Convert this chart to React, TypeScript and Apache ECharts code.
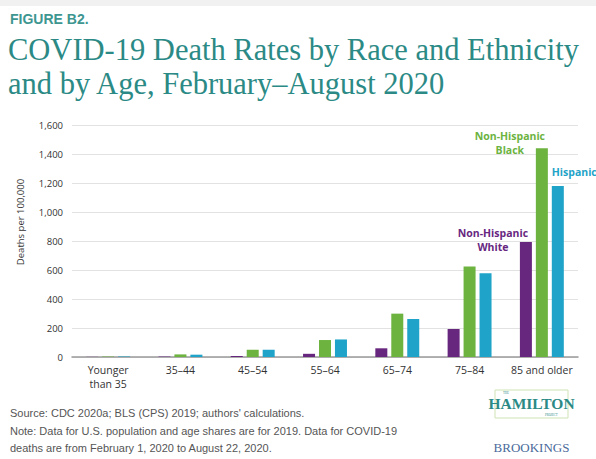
import React, { useEffect, useRef } from "react";
import * as echarts from "echarts";

const categories = ["Younger\nthan 35", "35–44", "45–54", "55–64", "65–74", "75–84", "85 and older"];
const white = [1, 3, 7, 22, 60, 193, 793];
const black = [3, 18, 50, 117, 299, 625, 1439];
const hispanic = [3, 16, 50, 121, 262, 577, 1179];
const yTicks = [0, 200, 400, 600, 800, 1000, 1200, 1400, 1600];

const PURPLE = "#67277f";
const GREEN = "#6cb33f";
const BLUE = "#1fa3c8";
const TEAL = "#2b8a85";

export default function App() {
  const ref = useRef<HTMLDivElement>(null);
  useEffect(() => {
    document.body.style.margin = "0";
    const chart = echarts.init(ref.current!, undefined, { renderer: "svg" });
    const last = categories.length - 1;
    const mk = (vals: number[], label: any) =>
      vals.map((v, i) => (i === last ? { value: v, label } : v));
    const labelFont = { fontFamily: "Open Sans", fontSize: 10.5, fontWeight: "bold" as const, lineHeight: 14 };
    chart.setOption({
      animation: false,
      backgroundColor: "#ffffff",
      grid: { left: 72, right: 18, top: 125, bottom: 102 },
      xAxis: {
        type: "category",
        data: categories,
        axisLine: { lineStyle: { color: "#9a9a9a", width: 1.5 } },
        axisTick: { show: false },
        axisLabel: { color: "#333", fontFamily: "Open Sans", fontSize: 10.5, lineHeight: 14, margin: 6, interval: 0 },
      },
      yAxis: {
        type: "value",
        min: 0,
        max: 1600,
        interval: 200,
        axisLine: { show: false },
        axisTick: { show: false },
        splitLine: { lineStyle: { color: "#e2e2e2" } },
        axisLabel: {
          color: "#333",
          fontFamily: "Open Sans",
          fontSize: 9.5,
          margin: 9,
          formatter: (v: number) => (yTicks.includes(v) ? v.toLocaleString("en-US") : ""),
        },
      },
      series: [
        {
          type: "bar",
          name: "Non-Hispanic White",
          barWidth: 12,
          barGap: "33%",
          itemStyle: { color: PURPLE },
          data: mk(white, {
            show: true, position: "top", formatter: "Non-Hispanic\nWhite", color: PURPLE,
            ...labelFont, offset: [-33, 17],
          }),
        },
        {
          type: "bar",
          name: "Non-Hispanic Black",
          barWidth: 12,
          barGap: "33%",
          itemStyle: { color: GREEN },
          data: mk(black, {
            show: true, position: "top", formatter: "Non-Hispanic\nBlack", color: GREEN,
            ...labelFont, offset: [-32, 14],
          }),
        },
        {
          type: "bar",
          name: "Hispanic",
          barWidth: 12,
          barGap: "33%",
          itemStyle: { color: BLUE },
          data: mk(hispanic, {
            show: true, position: "top", formatter: "Hispanic", color: BLUE, align: "left",
            ...labelFont, offset: [-6, -2],
          }),
        },
      ],
      graphic: [
        { type: "rect", shape: { x: 0, y: 0, width: 596, height: 6 }, style: { fill: "#f1f1f1" } },
        { type: "text", x: 10, y: 12, style: { text: "FIGURE B2.", fill: "#3d9690", font: "bold 14px 'Liberation Sans', Arial" } },
        { type: "text", x: 8, y: 34, style: { text: "COVID-19 Death Rates by Race and Ethnicity", fill: TEAL, font: "30.5px 'Liberation Serif', serif" } },
        { type: "text", x: 8, y: 68, style: { text: "and by Age, February–August 2020", fill: TEAL, font: "30.5px 'Liberation Serif', serif" } },
        {
          type: "text", x: 20, y: 222, rotation: Math.PI / 2,
          style: { text: "Deaths per 100,000", fill: "#333", font: "9.5px 'Open Sans'", align: "center", verticalAlign: "middle" },
        },
        { type: "text", x: 10, y: 407, style: { text: "Source: CDC 2020a; BLS (CPS) 2019; authors' calculations.", fill: "#555", font: "11px 'Liberation Sans', Arial" } },
        { type: "text", x: 10, y: 425, style: { text: "Note: Data for U.S. population and age shares are for 2019. Data for COVID-19", fill: "#555", font: "11px 'Liberation Sans', Arial" } },
        { type: "text", x: 10, y: 442, style: { text: "deaths are from February 1, 2020 to August 22, 2020.", fill: "#555", font: "11px 'Liberation Sans', Arial" } },
        { type: "rect", shape: { x: 495, y: 390, width: 73, height: 28 }, style: { fill: "none", stroke: "#cfe3b5", lineWidth: 1 } },
        { type: "text", x: 503, y: 391, style: { text: "THE", fill: TEAL, font: "3px 'Liberation Serif'" } },
        { type: "text", x: 531.5, y: 403, style: { text: "HAMILTON", fill: TEAL, font: "bold 15.5px 'Liberation Serif'", align: "center", verticalAlign: "middle" } },
        { type: "text", x: 545, y: 413, style: { text: "PROJECT", fill: TEAL, font: "3px 'Liberation Serif'" } },
        { type: "text", x: 531.5, y: 447, style: { text: "BROOKINGS", fill: "#4a6a9a", font: "13px 'Liberation Serif'", align: "center", verticalAlign: "middle" } },
      ],
    });
    return () => chart.dispose();
  }, []);
  return <div ref={ref} style={{ width: 596, height: 459 }} />;
}
